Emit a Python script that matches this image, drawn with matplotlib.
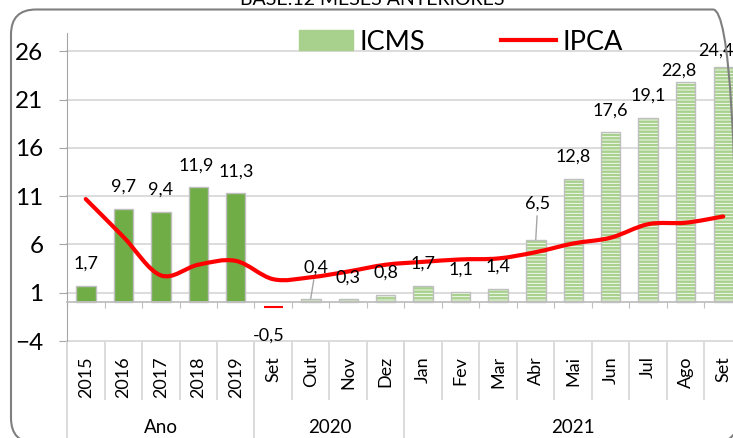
import matplotlib.pyplot as plt
from matplotlib.path import Path
from matplotlib.patches import PathPatch, FancyBboxPatch, Patch
from matplotlib.lines import Line2D
from matplotlib.transforms import IdentityTransform
import numpy as np

plt.rcParams['font.family'] = ['Lato', 'DejaVu Sans']
plt.rcParams['hatch.linewidth'] = 1.8

# --- data ---
title = 'BASE:12 MESES ANTERIORES'
categories = ['2015', '2016', '2017', '2018', '2019',
              'Set', 'Out', 'Nov', 'Dez',
              'Jan', 'Fev', 'Mar', 'Abr', 'Mai', 'Jun', 'Jul', 'Ago', 'Set']
groups = ['Ano', '2020', '2021']
group_sizes = [5, 4, 9]
icms = [1.7, 9.7, 9.4, 11.9, 11.3,
        -0.5, 0.4, 0.3, 0.8,
        1.7, 1.1, 1.4, 6.5, 12.8, 17.6, 19.1, 22.8, 24.4]
ipca = [10.7, 6.8, 2.8, 3.9, 4.3,
        2.4, 2.6, 3.2, 3.9,
        4.2, 4.45, 4.55, 5.2, 6.1, 6.7, 8.1, 8.25, 8.9]
y_ticks = [-4, 1, 6, 11, 16, 21, 26]

# label offsets in pixels (dx, dy) where the default does not fit
label_offsets = {3: (-2, 22), 5: (-5, -28), 6: (5, 31), 12: (2, 36),
                 16: (-7, 12), 17: (-7, 16)}
leader_lines = [6, 12]

W, H = 733, 438
fig = plt.figure(figsize=(W / 100, H / 100), dpi=100)
ax = fig.add_axes([67 / W, (H - 341) / H, 675 / W, 308 / H])

x = np.arange(len(categories))
n_years = group_sizes[0]
bar_w = 0.52

# solid bars for the yearly values
ax.bar(x[:n_years], icms[:n_years], bar_w, color='#70AD47',
       edgecolor='#BFBFBF', lw=1, zorder=2)

# hatched bars for the monthly values
for i in range(n_years, len(categories)):
    v = icms[i]
    if v < 0:
        ax.hlines(v, i - bar_w / 2, i + bar_w / 2, color='red', lw=1.5, zorder=2)
        continue
    ax.bar(i, v, bar_w, facecolor='white', edgecolor='#A9D18E',
           hatch='-----', lw=0, zorder=2)
    ax.bar(i, v, bar_w, fill=False, edgecolor='#BFBFBF', lw=1, zorder=2)


# smoothed IPCA line (bezier through the points, like Excel)
def smooth_path(xs, ys):
    pts = np.column_stack([xs, ys]).astype(float)
    n = len(pts)
    verts = [pts[0]]
    codes = [Path.MOVETO]
    for i in range(n - 1):
        p0 = pts[max(i - 1, 0)]
        p1 = pts[i]
        p2 = pts[i + 1]
        p3 = pts[min(i + 2, n - 1)]
        verts += [p1 + (p2 - p0) / 6, p2 - (p3 - p1) / 6, p2]
        codes += [Path.CURVE4] * 3
    return Path(verts, codes)


ax.add_patch(PathPatch(smooth_path(x, ipca), fill=False, edgecolor='#FF0000',
                       lw=3, capstyle='round', joinstyle='round', zorder=3))

# data labels
for i, v in enumerate(icms):
    dx, dy = label_offsets.get(i, (0, 22))
    txt = '{:.1f}'.format(v).replace('.', ',')
    arrow = None
    if i in leader_lines:
        arrow = dict(arrowstyle='-', color='#A6A6A6', lw=1, shrinkA=1, shrinkB=0)
    ax.annotate(txt, (i, v), xytext=(dx * 0.72, dy * 0.72), textcoords='offset points',
                ha='center', va='center', fontsize=13, arrowprops=arrow, zorder=4)

# axes styling
ax.set_xlim(-0.5, len(categories) - 0.5)
ax.set_ylim(-4, 27.9)
ax.set_yticks(y_ticks)
ax.tick_params(axis='y', length=6, color='#A6A6A6', pad=11, labelsize=17.5)
ax.yaxis.grid(True, color='#D9D9D9', lw=1.3)
for gl in ax.get_ygridlines():
    gl.set_clip_on(False)
ax.set_axisbelow(True)
for s in ['top', 'right']:
    ax.spines[s].set_visible(False)
ax.spines['left'].set_color('#A6A6A6')
ax.spines['bottom'].set_position(('data', 0))
ax.spines['bottom'].set_color('#BFBFBF')
ax.spines['bottom'].set_linewidth(1.3)
ax.set_xticks(np.arange(len(categories) + 1) - 0.5)
ax.tick_params(axis='x', length=4, color='#BFBFBF', labelbottom=False)

# multi-level category axis below the plot area
tr = ax.get_xaxis_transform()
for i, c in enumerate(categories):
    ax.text(i, -0.049, c, transform=tr, rotation=90, ha='center', va='top',
            fontsize=13, clip_on=False)
bounds = np.arange(len(categories) + 1) - 0.5
ax.vlines(bounds, -0.19, 0, transform=tr, color='#D9D9D9', lw=1.3, clip_on=False)
start = 0
group_edges = [-0.5]
for g, size in zip(groups, group_sizes):
    ax.text(start + (size - 1) / 2, -0.282, g, transform=tr, ha='center', va='center',
            fontsize=13.5, clip_on=False)
    start += size
    group_edges.append(start - 0.5)
ax.vlines(group_edges, -0.4, 0, transform=tr, color='#D9D9D9', lw=1.3, clip_on=False)

# legend
handles = [Patch(facecolor='#A9D18E', edgecolor='#A9D18E'),
           Line2D([], [], color='#FF0000', lw=3)]
fig.legend(handles, ['ICMS', 'IPCA'], loc='center left',
           bbox_to_anchor=(299 / W, 1 - 42 / H), ncol=2, frameon=False,
           fontsize=19.5, handlelength=2.0, handleheight=0.72, handletextpad=0.25,
           columnspacing=2.8, borderpad=0, borderaxespad=0)

# chart frame and clipped title
frame = FancyBboxPatch((11, -5), 727, H - 9.5 + 5,
                       boxstyle='round,pad=0,rounding_size=25',
                       transform=IdentityTransform(), fill=False,
                       edgecolor='#7F7F7F', lw=1.5)
fig.add_artist(frame)
fig.text(372 / W, 1 - 5 / H, title, ha='center', va='baseline', fontsize=14)

fig.savefig('out.png', dpi=100)
